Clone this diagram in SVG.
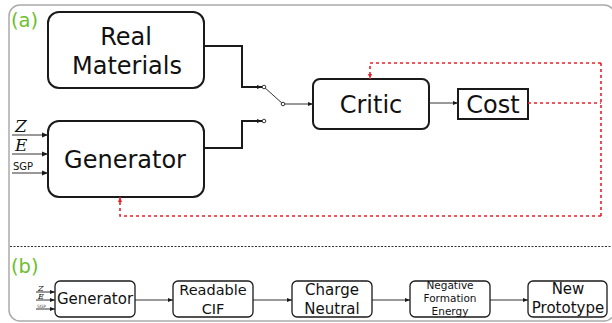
<svg xmlns="http://www.w3.org/2000/svg" width="612" height="323" viewBox="0 0 612 323">
<defs>
<style>
.node{fill:#fff;stroke:#1a1a1a;stroke-width:2}
.nodeb{fill:#fff;stroke:#1a1a1a;stroke-width:1.3}
.t{font-family:"DejaVu Sans",sans-serif;fill:#111;text-anchor:middle}
.lbl{font-family:"DejaVu Sans",sans-serif;fill:#6cc02c;font-size:19.5px}
.wire{fill:none;stroke:#1a1a1a;stroke-width:2}
.thin{fill:none;stroke:#333;stroke-width:1}
.red{fill:none;stroke:#e8202a;stroke-width:1.6;stroke-dasharray:3,3}
.sw{fill:#fff;stroke:#333;stroke-width:1}
.math{font-family:"DejaVu Serif",serif;font-style:italic;fill:#111}
</style>
<marker id="ah" viewBox="0 0 10 10" refX="10" refY="5" markerWidth="6" markerHeight="6" orient="auto" markerUnits="userSpaceOnUse"><path d="M0,1 L10,5 L0,9 z" fill="#1a1a1a"/></marker>
<marker id="ahs" viewBox="0 0 10 10" refX="10" refY="5" markerWidth="5" markerHeight="5" orient="auto" markerUnits="userSpaceOnUse"><path d="M0,1 L10,5 L0,9 z" fill="#1a1a1a"/></marker>
<marker id="ahr" viewBox="0 0 10 10" refX="10" refY="5" markerWidth="5" markerHeight="5" orient="auto" markerUnits="userSpaceOnUse"><path d="M0,1 L10,5 L0,9 z" fill="#e8202a"/></marker>
</defs>
<rect width="612" height="323" fill="#fff"/>
<g id="frame">
<rect x="9" y="5" width="606" height="316" rx="11" fill="none" stroke="#aaa" stroke-width="1.5"/>
<line x1="10" y1="246.5" x2="612" y2="246.5" stroke="#333" stroke-width="1" stroke-dasharray="2,1.5"/>
<text class="lbl" x="11" y="27">(a)</text>
<text class="lbl" x="11" y="273">(b)</text>
</g>
<g id="real-materials">
<rect class="node" x="48" y="12" width="156" height="76" rx="11"/>
<text class="t" x="126" y="45" font-size="24">Real</text>
<text class="t" x="127" y="74" font-size="24">Materials</text>
</g>
<g id="generator">
<rect class="node" x="48" y="121" width="156" height="76" rx="11"/>
<text class="t" x="125" y="168" font-size="24">Generator</text>
</g>
<g id="critic">
<rect class="node" x="313" y="79" width="116" height="50" rx="7"/>
<text class="t" x="371" y="113" font-size="24">Critic</text>
</g>
<g id="cost">
<rect class="node" x="458" y="89" width="70" height="30"/>
<text class="t" x="493" y="113" font-size="24">Cost</text>
</g>
<g id="inputs-a">
<text class="math" x="15" y="132" font-size="17">Z</text>
<text class="math" x="15" y="151" font-size="17">E</text>
<text x="13" y="170" font-family="DejaVu Sans,sans-serif" font-size="10" fill="#111">SGP</text>
<line class="thin" x1="12" y1="135" x2="48" y2="135" marker-end="url(#ah)" stroke-width="1.3"/>
<line class="thin" x1="12" y1="154" x2="48" y2="154" marker-end="url(#ah)" stroke-width="1.3"/>
<line class="thin" x1="12" y1="173" x2="48" y2="173" marker-end="url(#ah)" stroke-width="1.3"/>
</g>
<g id="connectors">
<path class="wire" d="M204,46 H242 V87 H262" marker-end="url(#ahs)"/>
<path class="wire" d="M204,148 H242 V121 H262" marker-end="url(#ahs)"/>
<line class="thin" x1="264" y1="87" x2="283" y2="104"/>
<line class="thin" x1="284" y1="104" x2="313" y2="104" marker-end="url(#ahs)"/>
<circle class="sw" cx="264" cy="87" r="1.8"/>
<circle class="sw" cx="264" cy="121" r="1.8"/>
<circle class="sw" cx="283" cy="104" r="1.8"/>
<line class="thin" x1="429" y1="103" x2="458" y2="103" marker-end="url(#ahs)"/>
<path class="red" d="M528,103 H601"/>
<path class="red" d="M601,63 V216"/>
<path class="red" d="M601,63 H370 V79" marker-end="url(#ahr)"/>
<path class="red" d="M601,216 H120 V197" marker-end="url(#ahr)"/>
<line class="thin" x1="135" y1="300" x2="173" y2="300" marker-end="url(#ahs)"/>
<line class="thin" x1="253" y1="300" x2="292" y2="300" marker-end="url(#ahs)"/>
<line class="thin" x1="372" y1="300" x2="410" y2="300" marker-end="url(#ahs)"/>
<line class="thin" x1="490" y1="300" x2="528" y2="300" marker-end="url(#ahs)"/>
</g>
<g id="inputs-b">
<text class="math" x="38" y="291" font-size="8">Z</text>
<text class="math" x="38" y="299" font-size="8">E</text>
<text x="37" y="308" font-family="DejaVu Sans,sans-serif" font-size="4.5" fill="#555">SGP</text>
<line class="thin" x1="36" y1="292" x2="55" y2="292" marker-end="url(#ahs)" stroke-width="0.8"/>
<line class="thin" x1="36" y1="300" x2="55" y2="300" marker-end="url(#ahs)" stroke-width="0.8"/>
<line class="thin" x1="36" y1="309" x2="55" y2="309" marker-end="url(#ahs)" stroke-width="0.8"/>
</g>
<g id="b-generator">
<rect class="nodeb" x="55" y="281" width="80" height="36" rx="5"/>
<text class="t" x="95" y="304" font-size="15">Generator</text>
</g>
<g id="b-readable-cif">
<rect class="nodeb" x="173" y="281" width="80" height="36" rx="5"/>
<text class="t" x="213" y="295" font-size="14.5">Readable</text>
<text class="t" x="213" y="314" font-size="14.5">CIF</text>
</g>
<g id="b-charge-neutral">
<rect class="nodeb" x="292" y="281" width="80" height="36" rx="5"/>
<text class="t" x="332" y="295" font-size="15">Charge</text>
<text class="t" x="332" y="314" font-size="15">Neutral</text>
</g>
<g id="b-negative-formation-energy">
<rect class="nodeb" x="410" y="281" width="80" height="36" rx="5"/>
<text class="t" x="450" y="289" font-size="10.5">Negative</text>
<text class="t" x="450" y="302" font-size="10.5">Formation</text>
<text class="t" x="450" y="314.5" font-size="10.5">Energy</text>
</g>
<g id="b-new-prototype">
<rect class="nodeb" x="528" y="281" width="79" height="36" rx="5"/>
<text class="t" x="568" y="294" font-size="15">New</text>
<text class="t" x="568" y="313" font-size="15">Prototype</text>
</g>
</svg>
